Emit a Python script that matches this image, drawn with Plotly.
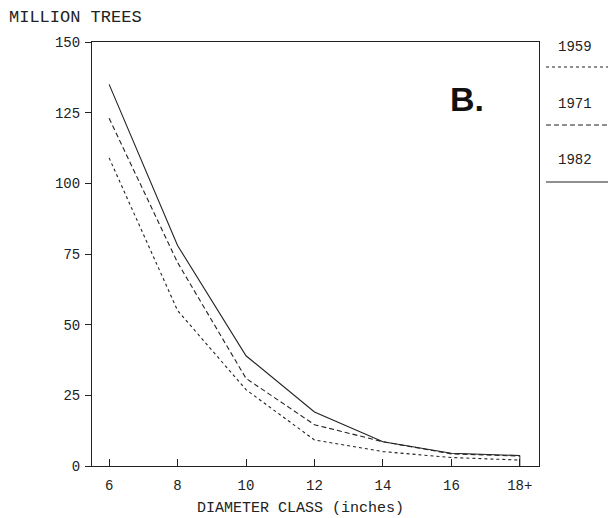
import plotly.graph_objects as go

categories = ["6", "8", "10", "12", "14", "16", "18+"]
trees_1959 = [109, 55, 27, 9.2, 5.1, 3.0, 2.1]
trees_1971 = [123, 72, 31, 14.6, 8.6, 4.3, 3.5]
trees_1982 = [135, 78, 39, 19.1, 8.6, 4.5, 3.7]
y_ticks = [0, 25, 50, 75, 100, 125, 150]

MONO = "Liberation Mono, DejaVu Sans Mono, monospace"
INK = "#222222"

fig = go.Figure()
series = [("1959", trees_1959, "dot"), ("1971", trees_1971, "5px,3px"), ("1982", trees_1982, "solid")]
for name, vals, dash in series:
    fig.add_trace(go.Scatter(x=categories, y=vals, mode="lines", name=name,
                             line=dict(color=INK, width=1.1, dash=dash), showlegend=False))

# vertical drop at last class
last = len(categories) - 1
fig.add_shape(type="line", xref="x", yref="y", x0=last, x1=last, y0=0,
              y1=max(trees_1959[-1], trees_1971[-1], trees_1982[-1]),
              line=dict(color=INK, width=1))

W, H = 608, 518
L, R, T, B = 92, 69, 42, 52
pw, ph = W - L - R, H - T - B

def px(x):
    return (x - L) / pw

def py(y):
    return (H - B - y) / ph

# legend to the right
leg = [("1959", 47, 67, "dot"), ("1971", 104, 125, "5px,3px"), ("1982", 160, 182, "solid")]
for name, ty, ly, dash in leg:
    fig.add_annotation(x=px(575), y=py(ty), xref="paper", yref="paper", text=name,
                       showarrow=False, font=dict(family=MONO, size=14, color=INK),
                       xanchor="center", yanchor="middle")
    fig.add_shape(type="line", xref="paper", yref="paper", x0=px(546), x1=px(612),
                  y0=py(ly), y1=py(ly), line=dict(color=INK, width=1.1, dash=dash))

fig.add_annotation(x=px(467), y=py(99), xref="paper", yref="paper", text="<b>B.</b>",
                   showarrow=False, font=dict(family="Liberation Sans, Arial", size=34, color="#111"),
                   xanchor="center", yanchor="middle")
fig.add_annotation(x=px(7), y=py(17), xref="paper", yref="paper", text="MILLION TREES",
                   showarrow=False, font=dict(family=MONO, size=17, color=INK),
                   xanchor="left", yanchor="middle")
fig.add_annotation(x=px(300), y=py(508), xref="paper", yref="paper", text="DIAMETER CLASS (inches)",
                   showarrow=False, font=dict(family=MONO, size=15, color=INK),
                   xanchor="center", yanchor="middle")

fig.update_layout(
    width=W, height=H, margin=dict(l=L, r=R, t=T, b=B),
    paper_bgcolor="white", plot_bgcolor="white",
    font=dict(family=MONO, size=14, color=INK),
    xaxis=dict(type="category", range=[-0.25, 6.28], showgrid=False, zeroline=False,
               showline=True, linecolor=INK, linewidth=1, mirror=True,
               ticks="inside", ticklen=7, tickcolor=INK, tickwidth=1,
               ticklabelstandoff=6,
               tickfont=dict(family=MONO, size=14, color=INK)),
    yaxis=dict(range=[0, 150], tickvals=y_ticks, showgrid=False, zeroline=False,
               showline=True, linecolor=INK, linewidth=1, mirror=True,
               ticks="outside", ticklen=6, tickcolor=INK, tickwidth=1,
               ticklabelstandoff=2,
               tickfont=dict(family=MONO, size=14, color=INK)),
)

fig.write_html("out.html", config={"displayModeBar": False},
               post_script="document.body.style.margin='0';document.body.style.overflow='hidden';")
